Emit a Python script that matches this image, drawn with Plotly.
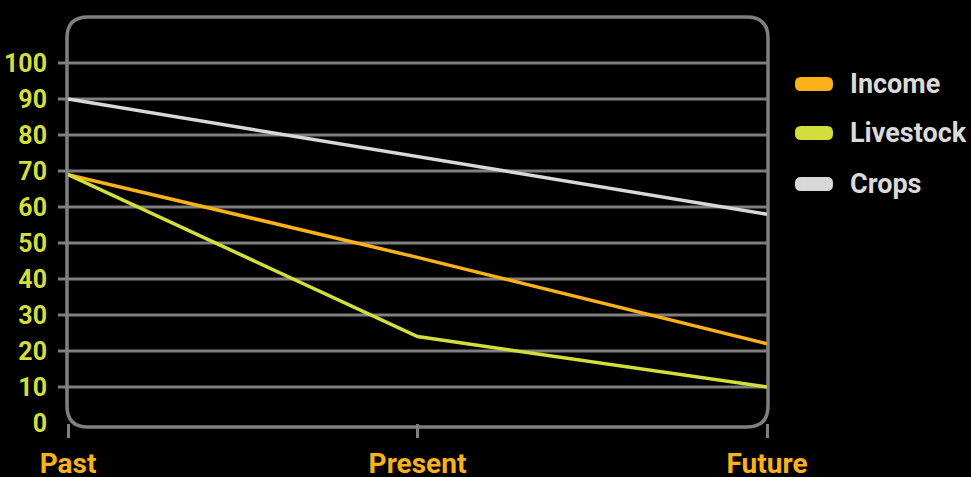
import plotly.graph_objects as go

# Series data
periods = ["Past", "Present", "Future"]
income = [69, 46, 22]
livestock = [69, 24, 10]
crops = [90, 74, 58]
series_names = ["Income", "Livestock", "Crops"]
y_ticks = [0, 10, 20, 30, 40, 50, 60, 70, 80, 90, 100]

colors = {"Income": "#FBB118", "Livestock": "#D3DE3C", "Crops": "#D8D8D8"}
grid_col = "#7F7F7F"
FONT = "Roboto, sans-serif"

W, H = 971, 477
ML, MR, MT, MB = 68, 204, 63, 54
PW, PH = W - ML - MR, H - MT - MB


def px(x):
    return (x - ML) / PW


def py(y):
    return (H - MB - y) / PH


def rounded_rect(x0, y0, x1, y1, r):
    # x0,y0 top-left, x1,y1 bottom-right in pixels; returns paper-space path
    def p(x, y):
        return f"{px(x):.5f},{py(y):.5f}"
    return (f"M{p(x0, y0 + r)} L{p(x0, y1 - r)} Q{p(x0, y1)} {p(x0 + r, y1)} "
            f"L{p(x1 - r, y1)} Q{p(x1, y1)} {p(x1, y1 - r)} "
            f"L{p(x1, y0 + r)} Q{p(x1, y0)} {p(x1 - r, y0)} "
            f"L{p(x0 + r, y0)} Q{p(x0, y0)} {p(x0, y0 + r)} Z")


fig = go.Figure()
for name, vals in zip(series_names, [income, livestock, crops]):
    fig.add_trace(go.Scatter(
        x=periods, y=vals, mode="lines", name=name,
        line=dict(color=colors[name], width=3.5),
        cliponaxis=False, showlegend=False,
    ))

shapes = []
# horizontal grid lines with short left ticks
for v in y_ticks[1:]:
    shapes.append(dict(type="line", xref="paper", yref="paper",
                       x0=px(58), x1=px(767), y0=v / 100, y1=v / 100,
                       line=dict(color=grid_col, width=3), layer="below"))
# rounded frame around plot
shapes.append(dict(type="path", xref="paper", yref="paper",
                   path=rounded_rect(67, 17, 768, 427, 21),
                   line=dict(color=grid_col, width=3.5), layer="below"))

# legend swatches and labels
annotations = []
legend_y = [84, 133, 184]
for name, ly in zip(series_names, legend_y):
    shapes.append(dict(type="path", xref="paper", yref="paper",
                       path=rounded_rect(795, ly - 7, 833, ly + 7, 6),
                       fillcolor=colors[name], line=dict(width=0)))
    annotations.append(dict(x=px(848), y=py(ly), xref="paper", yref="paper",
                            text=name, showarrow=False,
                            xanchor="left", yanchor="middle",
                            font=dict(family=FONT, size=27, weight="bold",
                                      color="#DADADA")))

fig.update_layout(
    width=W, height=H,
    margin=dict(l=ML, r=MR, t=MT, b=MB, autoexpand=False),
    paper_bgcolor="#000000", plot_bgcolor="#000000",
    shapes=shapes, annotations=annotations,
    showlegend=False,
    xaxis=dict(type="category", range=[0, 2], showgrid=False, zeroline=False,
               showline=False, automargin=False,
               ticks="outside", ticklen=14, tickwidth=3,
               tickcolor=grid_col, ticklabelstandoff=1,
               tickfont=dict(family=FONT, size=28, weight="bold",
                             color="#F9B21B")),
    yaxis=dict(range=[0, 100], showgrid=False, zeroline=False, showline=False,
               automargin=False,
               tickvals=y_ticks, ticks="", ticklabelstandoff=20,
               tickfont=dict(family=FONT, size=25, weight="bold",
                             color="#D3DE3C")),
)

fig.write_html("out.html")
